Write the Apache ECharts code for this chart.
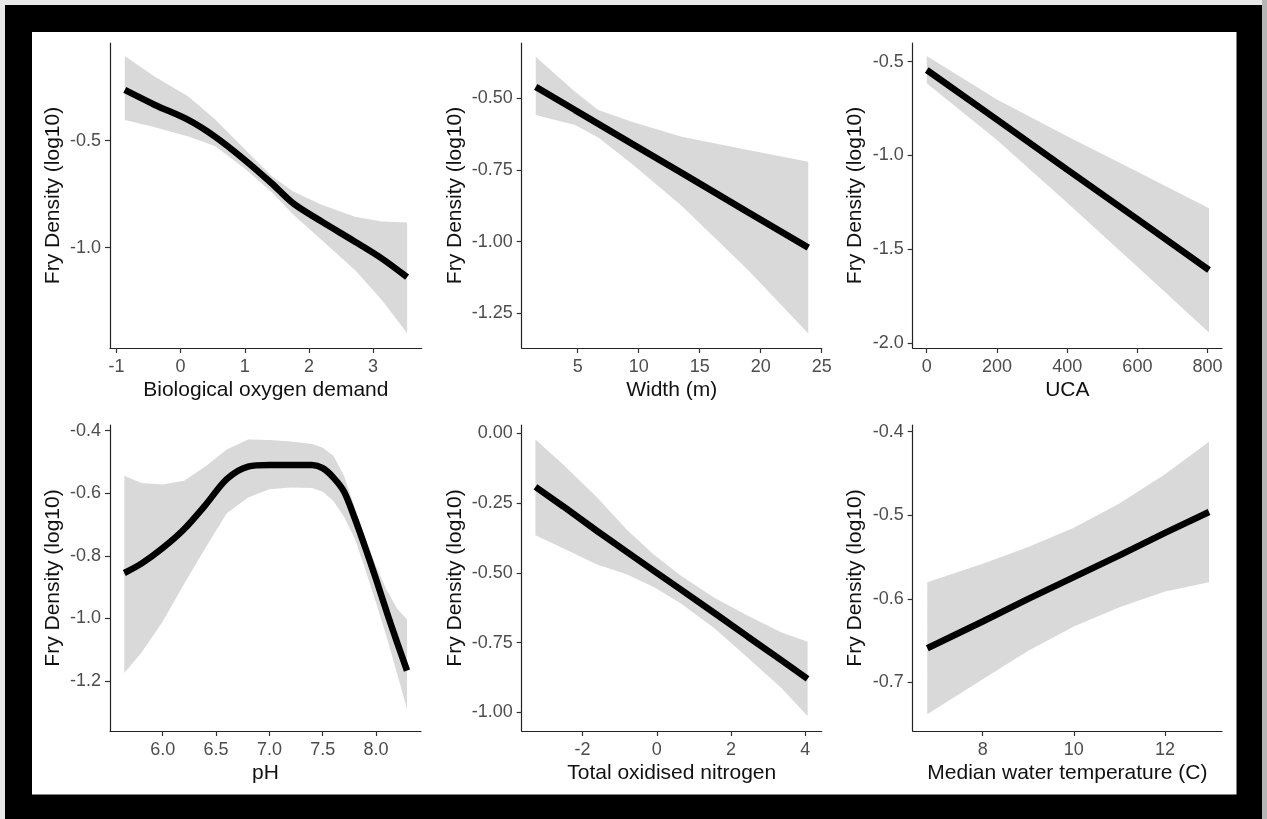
<!DOCTYPE html>
<html>
<head>
<meta charset="utf-8">
<script src="https://cdn.jsdelivr.net/npm/echarts@6/dist/echarts.min.js"></script>
<style>
html,body{margin:0;padding:0;background:#e6e6e6;}
#chart{width:1267px;height:819px;}
</style>
</head>
<body>
<div id="chart"></div>
<script>
// ---------- data ----------
// Panel 1: Biological oxygen demand
const bodX     = [-0.87, -0.40, 0.12, 0.535, 1.0, 1.418, 1.755, 2.198, 2.717, 3.133, 3.53];
const bodFit   = [-0.263, -0.333, -0.403, -0.481, -0.590, -0.699, -0.793, -0.878, -0.972, -1.050, -1.138];
const bodUpper = [-0.104, -0.201, -0.294, -0.400, -0.540, -0.665, -0.738, -0.800, -0.855, -0.878, -0.883];
const bodLower = [-0.403, -0.437, -0.481, -0.525, -0.630, -0.740, -0.845, -0.964, -1.104, -1.244, -1.400];
const bodXTicks = [-1, 0, 1, 2, 3];
const bodYTicks = [-1.0, -0.5];

// Panel 2: Width (m)
const widthX     = [1.56, 4.78, 6.69, 9.43, 13.52, 18.98, 23.9];
const widthFit   = [-0.460, -0.541, -0.589, -0.658, -0.760, -0.898, -1.021];
const widthUpper = [-0.355, -0.477, -0.541, -0.582, -0.634, -0.680, -0.721];
const widthLower = [-0.558, -0.593, -0.637, -0.728, -0.875, -1.100, -1.320];
const widthXTicks = [5, 10, 15, 20, 25];
const widthYTicks = [-1.25, -1.00, -0.75, -0.50];

// Panel 3: UCA
const ucaX     = [0, 200, 400, 600, 804];
const ucaFit   = [-0.544, -0.809, -1.075, -1.340, -1.611];
const ucaUpper = [-0.470, -0.701, -0.898, -1.087, -1.282];
const ucaLower = [-0.615, -0.917, -1.252, -1.593, -1.944];
const ucaXTicks = [0, 200, 400, 600, 800];
const ucaYTicks = [-2.0, -1.5, -1.0, -0.5];

// Panel 4: pH
const phX     = [5.64, 5.8, 6.0, 6.2, 6.4, 6.6, 6.8, 7.0, 7.2, 7.4, 7.5, 7.6, 7.7, 7.8, 7.9, 8.0, 8.1, 8.2, 8.29];
const phFit   = [-0.855, -0.825, -0.775, -0.715, -0.638, -0.555, -0.515, -0.510, -0.510, -0.510, -0.520, -0.550, -0.595, -0.680, -0.775, -0.875, -0.980, -1.080, -1.167];
const phUpper = [-0.544, -0.567, -0.572, -0.560, -0.515, -0.460, -0.428, -0.430, -0.435, -0.443, -0.455, -0.480, -0.545, -0.645, -0.745, -0.834, -0.910, -0.970, -1.004];
const phLower = [-1.175, -1.110, -1.010, -0.890, -0.775, -0.664, -0.614, -0.587, -0.582, -0.583, -0.595, -0.625, -0.675, -0.745, -0.845, -0.950, -1.060, -1.180, -1.290];
const phXTicks = [6.0, 6.5, 7.0, 7.5, 8.0];
const phYTicks = [-1.2, -1.0, -0.8, -0.6, -0.4];

// Panel 5: Total oxidised nitrogen
const tonX     = [-3.27, -2.51, -1.61, -0.80, -0.07, 0.65, 1.55, 2.45, 3.36, 4.06];
const tonFit   = [-0.192, -0.263, -0.350, -0.426, -0.494, -0.560, -0.644, -0.729, -0.814, -0.880];
const tonUpper = [-0.022, -0.113, -0.230, -0.346, -0.436, -0.510, -0.589, -0.654, -0.714, -0.747];
const tonLower = [-0.365, -0.413, -0.470, -0.506, -0.552, -0.610, -0.699, -0.804, -0.914, -1.013];
const tonXTicks = [-2, 0, 2, 4];
const tonYTicks = [-1.00, -0.75, -0.50, -0.25, 0.00];

// Panel 6: Median water temperature (C)
const tempX     = [6.785, 8, 9, 10, 11, 12, 12.965];
const tempFit   = [-0.659, -0.627, -0.600, -0.574, -0.548, -0.521, -0.496];
const tempUpper = [-0.580, -0.558, -0.538, -0.515, -0.486, -0.451, -0.412];
const tempLower = [-0.738, -0.696, -0.662, -0.633, -0.610, -0.591, -0.580];
const tempXTicks = [8, 10, 12];
const tempYTicks = [-0.7, -0.6, -0.5, -0.4];

const yTitle = 'Fry Density (log10)';

// ---------- layout ----------
const panels = [
  {grid:{left:110,  top:43,  width:311.7, height:305}, x:bodX,   fit:bodFit,   up:bodUpper,   lo:bodLower,   xr:[-1.10, 3.757], yr:[-1.469, -0.0435], xt:bodXTicks,   yt:bodYTicks,   xd:0, yd:1, name:'Biological oxygen demand', ygap:46, smooth:0.3},
  {grid:{left:521.7,top:43,  width:300,   height:305}, x:widthX, fit:widthFit, up:widthUpper, lo:widthLower, xr:[0.41, 25.0],   yr:[-1.371, -0.307],  xt:widthXTicks, yt:widthYTicks, xd:0, yd:2, name:'Width (m)', ygap:56, smooth:0},
  {grid:{left:912.7,top:43,  width:309.3, height:305}, x:ucaX,   fit:ucaFit,   up:ucaUpper,   lo:ucaLower,   xr:[-40, 841],     yr:[-2.027, -0.40],   xt:ucaXTicks,   yt:ucaYTicks,   xd:0, yd:1, name:'UCA', ygap:47, smooth:0},
  {grid:{left:110,  top:425, width:311,   height:306}, x:phX,    fit:phFit,    up:phUpper,    lo:phLower,    xr:[5.506, 8.421], yr:[-1.36, -0.382],   xt:phXTicks,    yt:phYTicks,    xd:1, yd:1, name:'pH', ygap:46, smooth:0.3},
  {grid:{left:521.7,top:425, width:300,   height:306}, x:tonX,   fit:tonFit,   up:tonUpper,   lo:tonLower,   xr:[-3.64, 4.44],  yr:[-1.067, 0.03],    xt:tonXTicks,   yt:tonYTicks,   xd:0, yd:2, name:'Total oxidised nitrogen', ygap:56, smooth:0},
  {grid:{left:912.7,top:425, width:309.3, height:306}, x:tempX,  fit:tempFit,  up:tempUpper,  lo:tempLower,  xr:[6.465, 13.25], yr:[-0.758, -0.392],  xt:tempXTicks,  yt:tempYTicks,  xd:0, yd:1, name:'Median water temperature (C)', ygap:47, smooth:0}
];

const FONT = "'Liberation Sans', Arial, sans-serif";
const axisCommon = (ticks, dec) => ({
  type:'value',
  splitLine:{show:false},
  axisLine:{show:true, onZero:false, lineStyle:{color:'#222', width:1.2}},
  axisTick:{show:true, length:5, customValues:ticks, lineStyle:{color:'#333', width:1.2}},
  axisLabel:{customValues:ticks, formatter:(v)=>Number(v).toFixed(dec), color:'#4d4d4d', fontSize:18, fontFamily:FONT}
});

const option = {
  animation:false,
  backgroundColor:'transparent',
  graphic:[
    {type:'rect', z:-100, shape:{x:0,y:0,width:1267,height:819}, style:{fill:'#e9e9e9'}},
    {type:'rect', z:-99, shape:{x:1262,y:0,width:5,height:819}, style:{fill:'#b5b5b5'}},
    {type:'rect', z:-98, shape:{x:5,y:5,width:1257,height:814}, style:{fill:'#000'}},
    {type:'rect', z:-97, shape:{x:32,y:32,width:1204.5,height:762.5}, style:{fill:'#fff'}}
  ],
  grid: panels.map(p => Object.assign({containLabel:false}, p.grid)),
  xAxis: panels.map((p,i) => {
    const a = axisCommon(p.xt, p.xd);
    a.gridIndex = i; a.min = p.xr[0]; a.max = p.xr[1];
    a.name = p.name; a.nameLocation = 'middle'; a.nameGap = 32;
    a.nameTextStyle = {fontSize:21, color:'#111', fontFamily:FONT};
    a.axisLabel.margin = 10;
    return a;
  }),
  yAxis: panels.map((p,i) => {
    const a = axisCommon(p.yt, p.yd);
    a.gridIndex = i; a.min = p.yr[0]; a.max = p.yr[1];
    a.name = yTitle; a.nameLocation = 'middle'; a.nameGap = p.ygap;
    a.nameTextStyle = {fontSize:21, color:'#111', fontFamily:FONT};
    a.axisLabel.margin = 9;
    return a;
  }),
  series: []
};

panels.forEach((p,i) => {
  const band = p.x.map((x,j) => [x, p.up[j], p.lo[j]]);
  option.series.push({
    type:'custom', xAxisIndex:i, yAxisIndex:i, silent:true, z:2,
    data: band,
    encode:{x:0, y:[1,2]},
    renderItem:(params, api) => {
      if (params.dataIndex !== 0) return null;
      const pts = [];
      for (let j = 0; j < band.length; j++) pts.push(api.coord([band[j][0], band[j][1]]));
      for (let j = band.length - 1; j >= 0; j--) pts.push(api.coord([band[j][0], band[j][2]]));
      return {type:'polygon', shape:{points:pts}, style:{fill:'#d9d9d9'}};
    }
  });
  option.series.push({
    type:'line', xAxisIndex:i, yAxisIndex:i, silent:true, z:3,
    data: p.x.map((x,j) => [x, p.fit[j]]),
    showSymbol:false, smooth:p.smooth,
    lineStyle:{color:'#000', width:6.5}
  });
});

const chart = echarts.init(document.getElementById('chart'), null, {renderer:'canvas'});
chart.setOption(option);
</script>
</body>
</html>
